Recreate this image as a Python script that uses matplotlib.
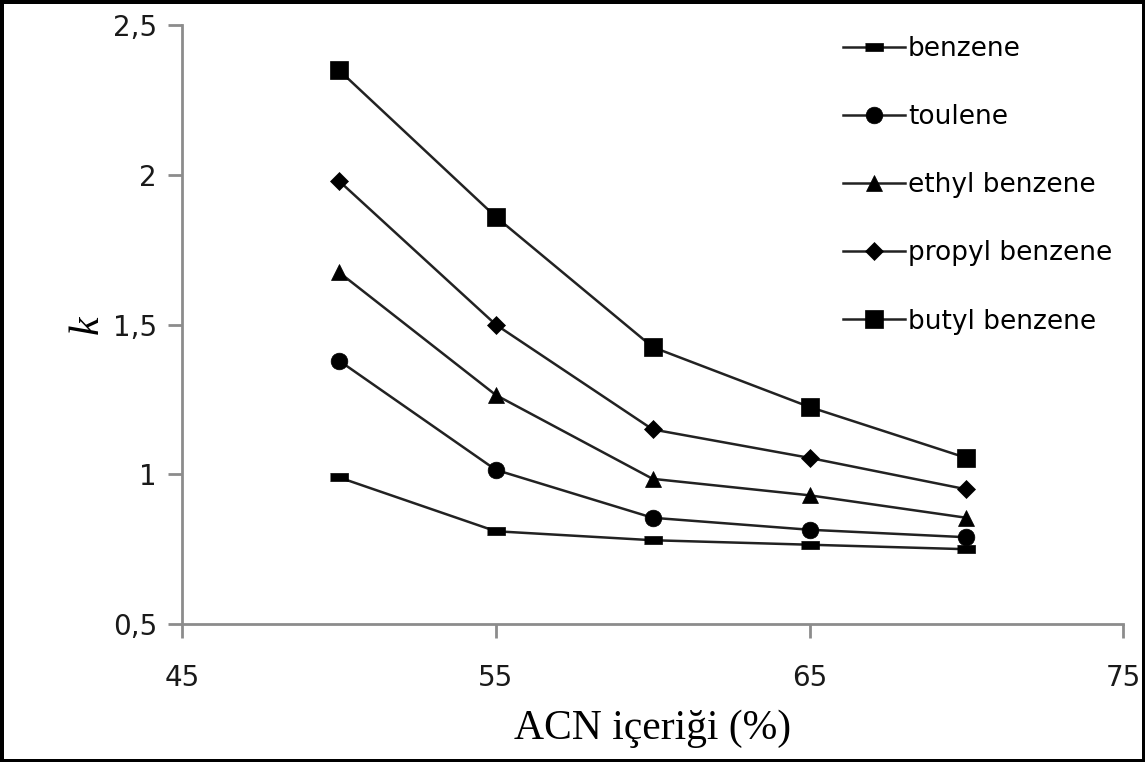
import matplotlib
matplotlib.use("Agg")
import matplotlib.pyplot as plt
from matplotlib.ticker import FuncFormatter

# ACN content (%) and retention factor k
acn = [50, 55, 60, 65, 70]
benzene = [0.99, 0.81, 0.78, 0.765, 0.75]
toulene = [1.38, 1.015, 0.855, 0.815, 0.79]
ethyl_benzene = [1.675, 1.265, 0.985, 0.93, 0.855]
propyl_benzene = [1.98, 1.50, 1.15, 1.055, 0.95]
butyl_benzene = [2.35, 1.86, 1.425, 1.225, 1.055]

x_ticks = [45, 55, 65, 75]
y_ticks = [0.5, 1, 1.5, 2, 2.5]

# small flat rectangle, like the Excel dash marker
dash = [(-1, -0.45), (1, -0.45), (1, 0.45), (-1, 0.45)]

fig = plt.figure(figsize=(11.45, 7.62), dpi=100, edgecolor='black', linewidth=5)
ax = fig.add_axes([0.159, 0.181, 0.822, 0.786])

line_kw = dict(color='#222222', linewidth=1.8, markeredgecolor='black',
               markerfacecolor='black', markeredgewidth=0.5)
ax.plot(acn, benzene, marker=dash, markersize=13, label='benzene', **line_kw)
ax.plot(acn, toulene, marker='o', markersize=12, label='toulene', **line_kw)
ax.plot(acn, ethyl_benzene, marker='^', markersize=12, label='ethyl benzene', **line_kw)
ax.plot(acn, propyl_benzene, marker='D', markersize=9.5, label='propyl benzene', **line_kw)
ax.plot(acn, butyl_benzene, marker='s', markersize=13.5, label='butyl benzene', **line_kw)

ax.set_xlim(45, 75)
ax.set_ylim(0.5, 2.5)
ax.set_xticks(x_ticks)
ax.set_yticks(y_ticks)
ax.yaxis.set_major_formatter(FuncFormatter(lambda v, p: ('%g' % v).replace('.', ',')))

for s in ['top', 'right']:
    ax.spines[s].set_visible(False)
for s in ['left', 'bottom']:
    ax.spines[s].set_color('#8c8c8c')
    ax.spines[s].set_linewidth(2)
ax.tick_params(direction='out', length=10, width=2, color='#8c8c8c',
               labelsize=20, labelcolor='#1a1a1a', pad=8)
ax.tick_params(axis='x', pad=19)

ax.set_xlabel('ACN içeriği (%)', family='Liberation Serif', fontsize=30, labelpad=12)
ax.set_ylabel('k', family='Liberation Serif', style='italic', fontsize=30, labelpad=4)

fig.legend(loc='upper left', bbox_to_anchor=(0.736, 0.953), frameon=False,
           fontsize=19, handlelength=2.35, handletextpad=0.12, labelspacing=1.6,
           borderpad=0, borderaxespad=0)

fig.savefig('out.png', dpi=100, edgecolor=fig.get_edgecolor())
